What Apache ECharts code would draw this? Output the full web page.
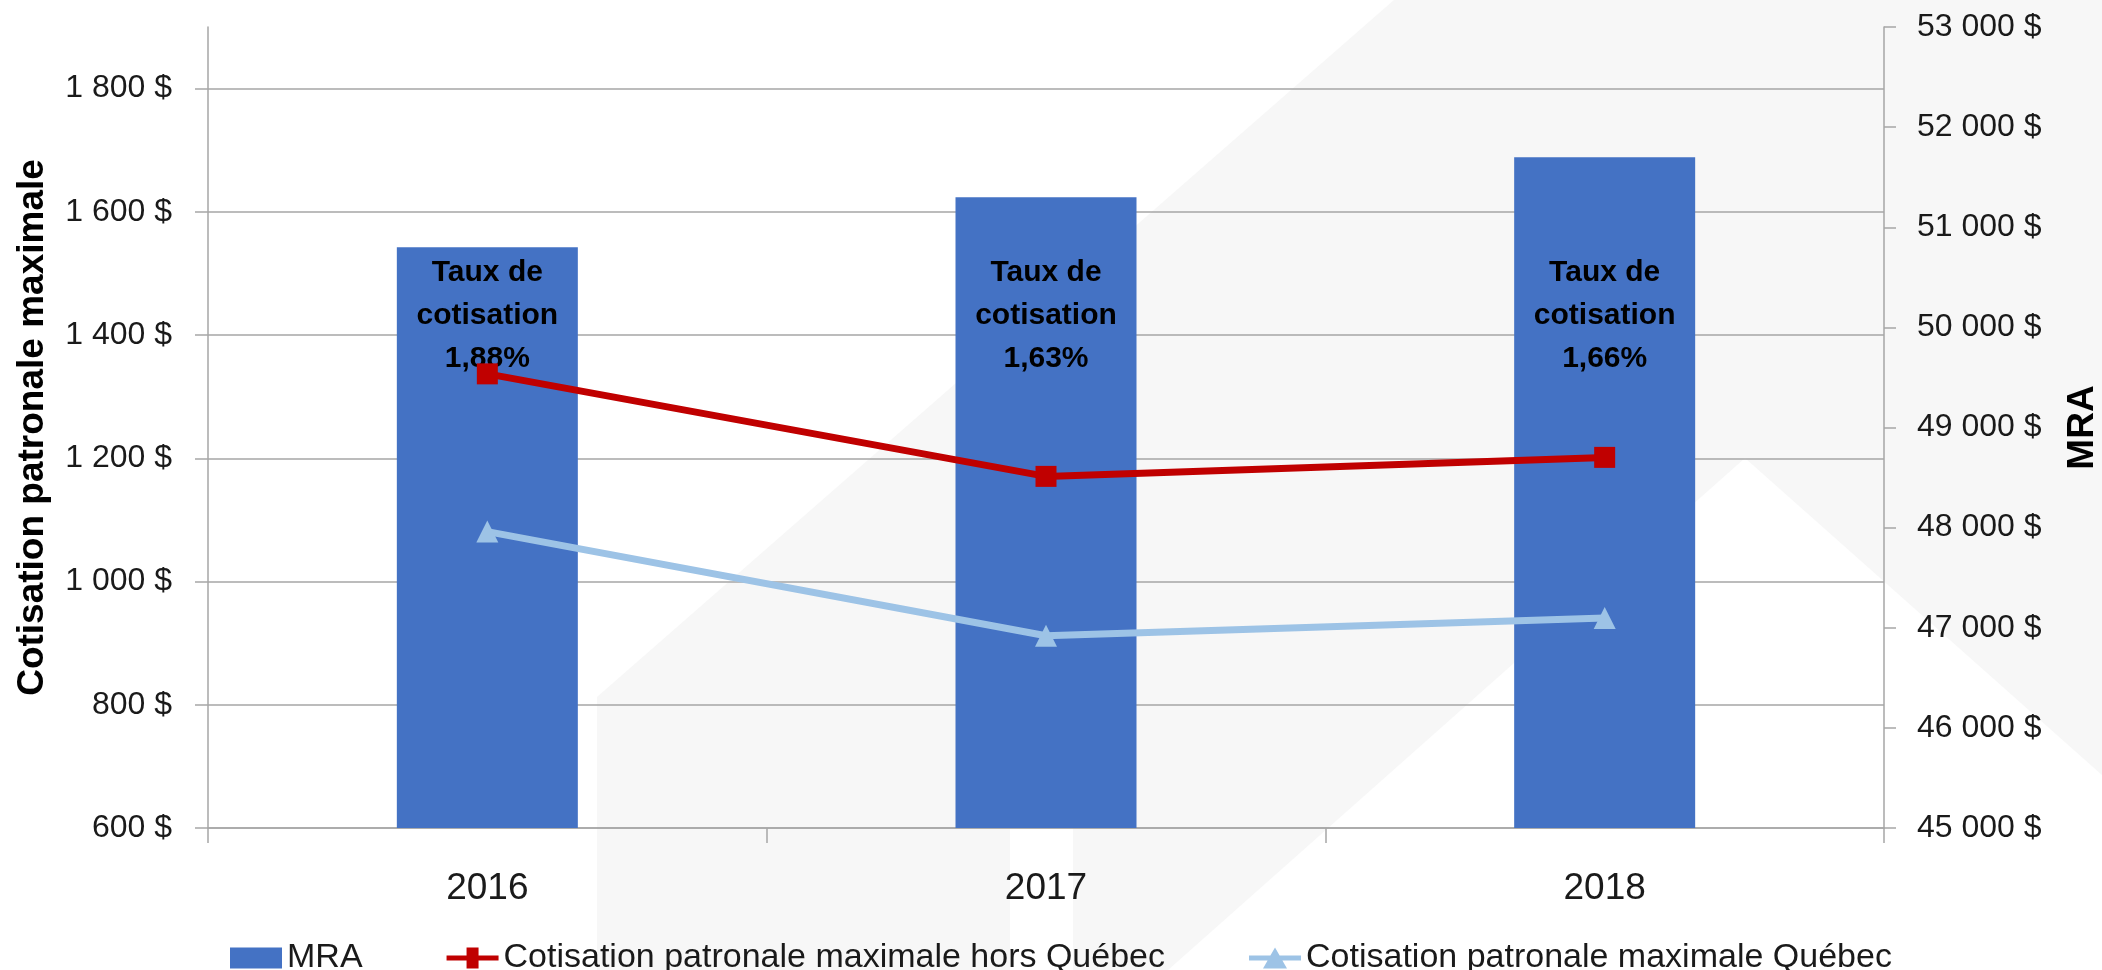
<!DOCTYPE html>
<html>
<head>
<meta charset="utf-8">
<script src="https://cdn.jsdelivr.net/npm/echarts@6/dist/echarts.min.js"></script>
<style>
html,body{margin:0;padding:0;background:#fff;}
#chart{width:2102px;height:970px;}
</style>
</head>
<body>
<div id="chart"></div>
<script>
const categories = ['2016', '2017', '2018'];
const mraValues = [50800, 51300, 51700];
const horsQuebec = [1337.06, 1170.67, 1201.51];
const quebec = [1081.02, 912.11, 940.94];
const tauxCotisation = ['1,88%', '1,63%', '1,66%'];
const seriesNames = ['MRA', 'Cotisation patronale maximale hors Québec', 'Cotisation patronale maximale Québec'];
const leftAxisTitle = 'Cotisation patronale maximale';
const rightAxisTitle = 'MRA';
const rightMin = 45000;

const FONT = 'Liberation Sans';
function money(v) {
  return String(v).replace(/\B(?=(\d{3})+(?!\d))/g, ' ') + ' $';
}

const chart = echarts.init(document.getElementById('chart'), null, {renderer: 'canvas'});
const gray = '#F7F7F7';
const axisGray = '#A6A6A6';
const minMRA = Math.min.apply(null, mraValues);

const iconSquareLine = 'path://M0,8H20V0H32V8H52V13H32V21H20V13H0Z';
const iconTriangleLine = 'path://M0,8H21.4L26,0L30.6,8H52V13H33.4L38,21H14L18.6,13H0Z';

chart.setOption({
  backgroundColor: '#ffffff',
  animation: false,
  textStyle: {fontFamily: FONT},
  graphic: [
    {
      type: 'polygon', silent: true, z: -10,
      shape: {points: [[1394,0],[2102,0],[2102,775],[1745,458],[1168,970],[1073,970],[1073,828],[1010,828],[1010,970],[597,970],[597,697]]},
      style: {fill: gray}
    }
  ],
  grid: {left: 208, right: 218, top: 27, bottom: 142, containLabel: false, outerBoundsMode: 'none'},
  legend: {
    left: 225, top: 936,
    itemWidth: 52, itemHeight: 21, itemGap: 84,
    textStyle: {fontFamily: FONT, fontSize: 34, color: '#1a1a1a'},
    data: [
      {name: seriesNames[0], icon: 'rect'},
      {name: seriesNames[1], icon: iconSquareLine},
      {name: seriesNames[2], icon: iconTriangleLine}
    ]
  },
  xAxis: {
    type: 'category',
    data: categories,
    boundaryGap: true,
    axisLine: {show: true, lineStyle: {color: axisGray, width: 1.5}},
    axisTick: {show: true, length: 15, lineStyle: {color: axisGray, width: 1.5}},
    axisLabel: {fontFamily: FONT, fontSize: 37, color: '#1a1a1a', margin: 42}
  },
  yAxis: [
    {
      type: 'value', min: 600, max: 1900, interval: 200,
      name: leftAxisTitle, nameLocation: 'middle', nameRotate: 90, nameGap: 157,
      nameTextStyle: {fontFamily: FONT, fontSize: 37, fontWeight: 'bold', color: '#000'},
      axisLine: {show: true, lineStyle: {color: axisGray, width: 1.5}},
      axisTick: {show: true, length: 13, lineStyle: {color: axisGray, width: 1.5}},
      axisLabel: {fontFamily: FONT, fontSize: 32, color: '#1a1a1a', margin: 36, showMaxLabel: false, formatter: money},
      splitLine: {show: true, showMaxLine: false, lineStyle: {color: axisGray, width: 1.5}}
    },
    {
      type: 'value', min: rightMin, max: 53000, interval: 1000, position: 'right',
      name: rightAxisTitle, nameLocation: 'middle', nameRotate: 90, nameGap: 180,
      nameTextStyle: {fontFamily: FONT, fontSize: 37, fontWeight: 'bold', color: '#000'},
      axisLine: {show: true, lineStyle: {color: axisGray, width: 1.5}},
      axisTick: {show: true, length: 12, lineStyle: {color: axisGray, width: 1.5}},
      axisLabel: {fontFamily: FONT, fontSize: 32, color: '#1a1a1a', margin: 33, formatter: money},
      splitLine: {show: false}
    }
  ],
  series: [
    {
      name: seriesNames[0], type: 'bar', yAxisIndex: 1,
      data: mraValues, barWidth: 181,
      itemStyle: {color: '#4472C4'},
      label: {
        show: true, position: 'insideTop', distance: 5,
        fontFamily: FONT, fontSize: 30, fontWeight: 'bold', lineHeight: 43, color: '#000',
        formatter: function (p) { return 'Taux de\ncotisation\n' + tauxCotisation[p.dataIndex]; }
      },
      labelLayout: function (params) {
        const r = params.rect;
        const val = mraValues[params.dataIndex];
        const bottom = r.y + r.height;
        const pxPerUnit = r.height / (val - rightMin);
        const minTop = bottom - (minMRA - rightMin) * pxPerUnit;
        return {x: r.x + r.width / 2, y: minTop + 4, align: 'center', verticalAlign: 'top'};
      },
      z: 2
    },
    {
      name: seriesNames[1], type: 'line', yAxisIndex: 0,
      data: horsQuebec,
      symbol: 'rect', symbolSize: 21,
      lineStyle: {color: '#C00000', width: 7},
      itemStyle: {color: '#C00000'},
      z: 4
    },
    {
      name: seriesNames[2], type: 'line', yAxisIndex: 0,
      data: quebec,
      symbol: 'triangle', symbolSize: 22,
      lineStyle: {color: '#9DC3E6', width: 7},
      itemStyle: {color: '#9DC3E6'},
      z: 3
    }
  ]
});
</script>
</body>
</html>
